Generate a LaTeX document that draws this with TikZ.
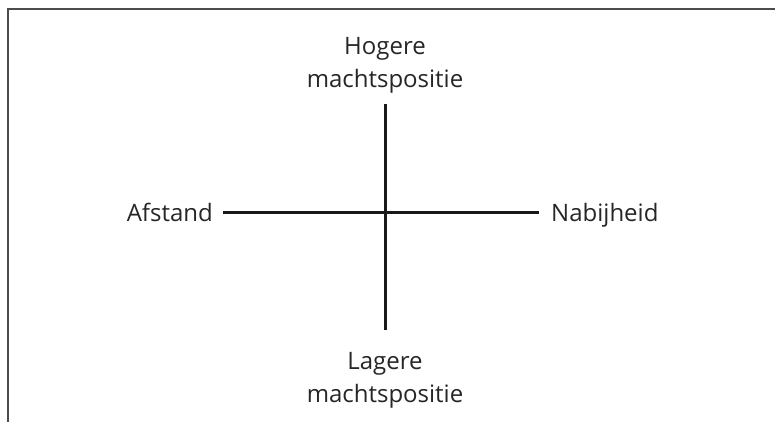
\documentclass[tikz,border=0pt]{standalone}
\usepackage{fontspec}
\setmainfont{Open Sans}
\begin{document}
\begin{tikzpicture}[x=1pt,y=-1pt,
  lbl/.style={font=\fontsize{24}{33}\selectfont, text=black!85, align=center, inner sep=0pt},
  axis/.style={line width=3pt, draw=black!90},
  frame/.style={line width=2pt, draw=black!70}]
\useasboundingbox (0,0) rectangle (775,422);
\coordinate (fl) at (8,422);
\coordinate (ft) at (8,9);
\coordinate (fr) at (775,9);
\draw[frame] (fl) -- (ft) -- (fr);
\node[lbl, anchor=base] (hog) at (385,88) {Hogere\\machtspositie};
\node[lbl, anchor=base] (lag) at (385,402) {Lagere\\machtspositie};
\node[lbl, anchor=base east] (afs) at (213,221) {Afstand};
\node[lbl, anchor=base west] (nab) at (551,221) {Nabijheid};
\coordinate (vt) at (385,104);
\coordinate (vb) at (385,330);
\coordinate (hl) at (223,212);
\coordinate (hr) at (539,212);
\draw[axis] (vt) -- (vb);
\draw[axis] (hl) -- (hr);
\end{tikzpicture}
\end{document}
